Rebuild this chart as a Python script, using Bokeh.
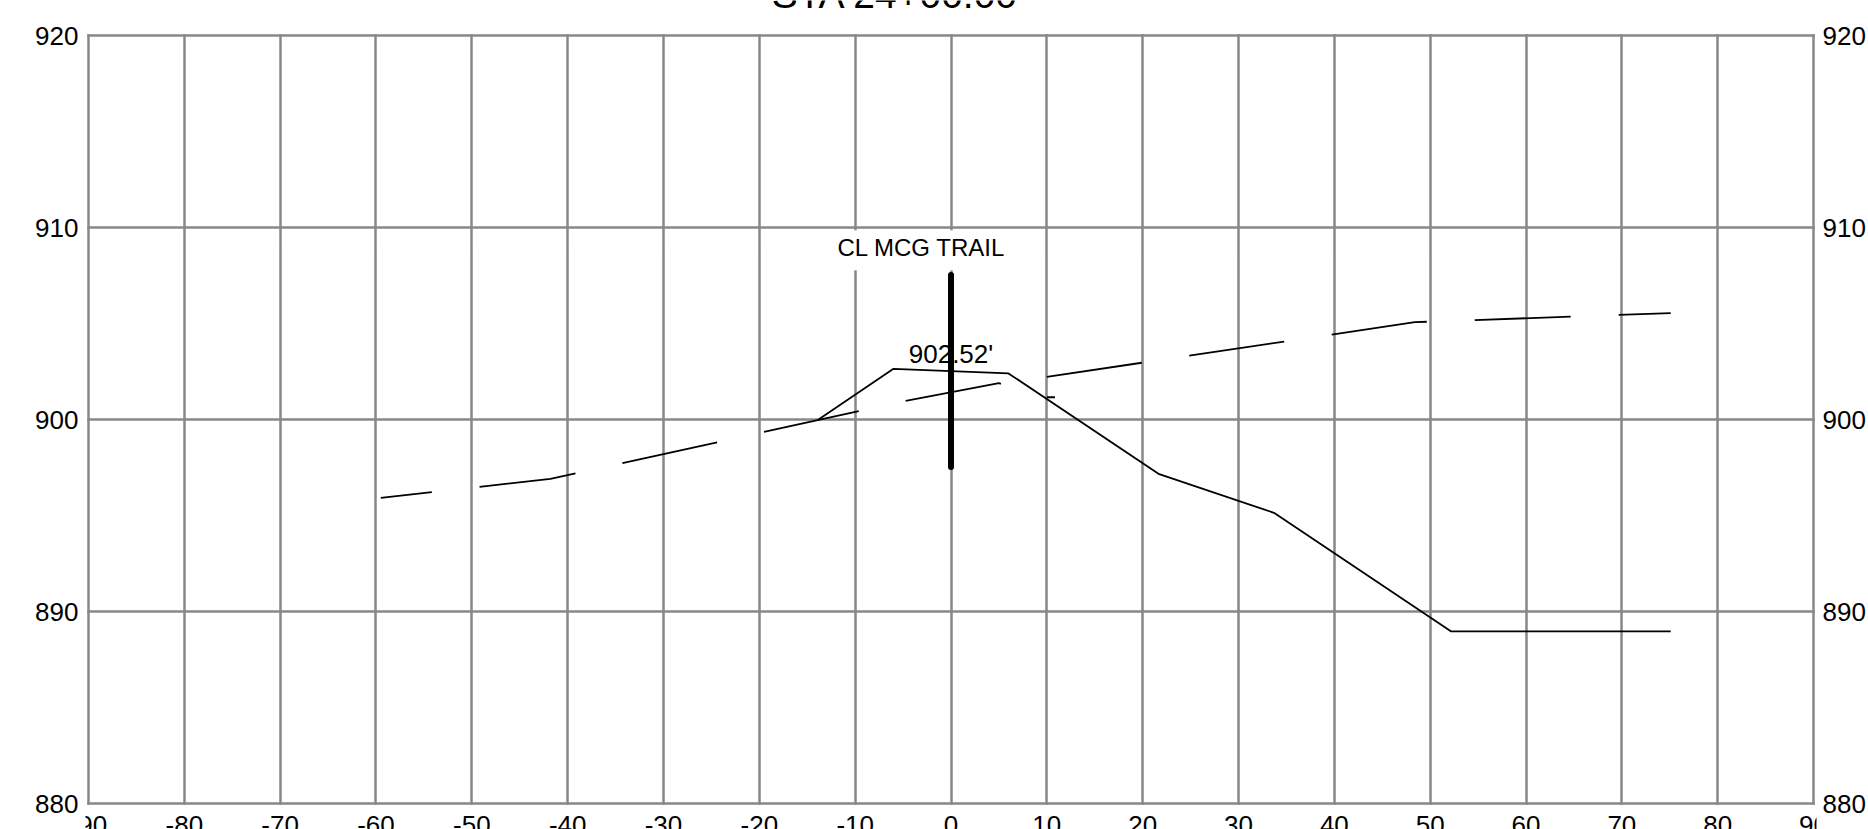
from bokeh.plotting import figure
from bokeh.models import Range1d, LinearAxis, FixedTicker, Grid, Label
from bokeh.core.properties import value
from bokeh.embed import file_html
from bokeh.resources import INLINE

FONT = "Liberation Sans"

X_TICKS = list(range(-90, 91, 10))
Y_TICKS = [880, 890, 900, 910, 920]

TITLE = "STA 24+00.00"
CL_NAME = "CL MCG TRAIL"
CL_OFFSET = 0.0
CL_ELEV = 902.52

# proposed section (solid)
prop_x = [-13.9, -6.0, 6.0, 21.65, 33.7, 52.2, 75.1]
prop_y = [899.98, 902.64, 902.40, 897.17, 895.14, 888.96, 888.96]

# existing ground, left piece (traced from its right end to its left end)
eg1_x = [10.85, 10.0, 5.0, -4.9, -41.8, -59.5]
eg1_y = [901.16, 901.16, 901.89, 900.95, 896.91, 895.92]

# existing ground, right piece
eg2_x = [10.0, 48.4, 75.1]
eg2_y = [902.22, 905.07, 905.54]

GRID = "#888888"

# canvas layout (pixels)
W, H = 1868, 829
BORDER_L, BORDER_R = 85, 49
PAD_T, PAD_B = 35, 26     # space above / below the grid box inside the frame
PAD_X = 3                 # small margin so the box edges are not clipped

xmin, xmax = X_TICKS[0], X_TICKS[-1]
ymin, ymax = Y_TICKS[0], Y_TICKS[-1]
x_ppu = (W - BORDER_L - BORDER_R - 2 * PAD_X) / (xmax - xmin)
y_ppu = (H - PAD_T - PAD_B) / (ymax - ymin)

p = figure(width=W, height=H,
           x_range=Range1d(xmin - PAD_X / x_ppu, xmax + PAD_X / x_ppu),
           y_range=Range1d(ymin - PAD_B / y_ppu, ymax + PAD_T / y_ppu),
           output_backend="svg", toolbar_location=None,
           x_axis_location=None, y_axis_location=None,
           min_border_left=BORDER_L, min_border_right=BORDER_R,
           min_border_top=0, min_border_bottom=0)
p.background_fill_color = "white"
p.border_fill_color = "white"
p.outline_line_color = None

p.center = [c for c in p.center if not isinstance(c, Grid)]
grid_kw = dict(grid_line_color=GRID, grid_line_width=2.5, grid_line_cap="square")
try:
    gx = Grid(dimension=0, ticker=FixedTicker(ticks=X_TICKS), bounds=(xmin, xmax),
              cross_bounds=(ymin, ymax), **grid_kw)
    gy = Grid(dimension=1, ticker=FixedTicker(ticks=Y_TICKS), bounds=(ymin, ymax),
              cross_bounds=(xmin, xmax), **grid_kw)
    p.add_layout(gx)
    p.add_layout(gy)
except Exception:
    p.segment(x0=X_TICKS, y0=[ymin] * len(X_TICKS), x1=X_TICKS, y1=[ymax] * len(X_TICKS),
              line_color=GRID, line_width=2.5, line_cap="square", level="underlay")
    p.segment(x0=[xmin] * len(Y_TICKS), y0=Y_TICKS, x1=[xmax] * len(Y_TICKS), y1=Y_TICKS,
              line_color=GRID, line_width=2.5, line_cap="square", level="underlay")

for side, standoff in (("left", 7), ("right", 6)):
    ax = LinearAxis(ticker=FixedTicker(ticks=Y_TICKS),
                    axis_line_color=None, major_tick_line_color=None,
                    minor_tick_line_color=None, major_tick_in=0, major_tick_out=0,
                    major_label_standoff=standoff,
                    major_label_text_font=FONT,
                    major_label_text_font_size="26px",
                    major_label_text_color="black")
    p.add_layout(ax, side)

# x tick labels under the box
p.text(x=X_TICKS, y=[ymin] * len(X_TICKS), text=[str(t) for t in X_TICKS],
       text_font=value(FONT), text_font_size="26px", text_align="center",
       text_baseline="alphabetic", y_offset=21, text_color="black")

# section title above the box
p.text(x=[-5.8], y=[ymax], text=[TITLE], text_font=value(FONT),
       text_font_size="39px", text_align="center", text_baseline="alphabetic",
       y_offset=-41, text_color="black")

# lines
p.line(prop_x, prop_y, line_color="black", line_width=1.8)
p.line(eg1_x, eg1_y, line_color="black", line_width=1.8,
       line_dash="97 48", line_dash_offset=89)
p.line(eg2_x, eg2_y, line_color="black", line_width=1.8, line_dash="96 48")

# elevation text at centerline
p.text(x=[CL_OFFSET], y=[CL_ELEV], text=[f"{CL_ELEV:.2f}'"],
       text_font=value(FONT), text_font_size="26px", text_align="center",
       text_baseline="alphabetic", y_offset=-17, text_color="black")

# centerline marker
p.segment(x0=[CL_OFFSET], y0=[CL_ELEV - 5], x1=[CL_OFFSET], y1=[CL_ELEV + 5],
          line_color="black", line_width=6, line_cap="round")

p.add_layout(Label(x=-3.23, y=908.82, text=CL_NAME, text_font=FONT,
                   text_font_size="24px", text_align="center",
                   text_baseline="alphabetic", text_color="black",
                   background_fill_color="white", padding=(12, 9, 4, 9)))

open("out.html", "w").write(file_html(p, INLINE))
